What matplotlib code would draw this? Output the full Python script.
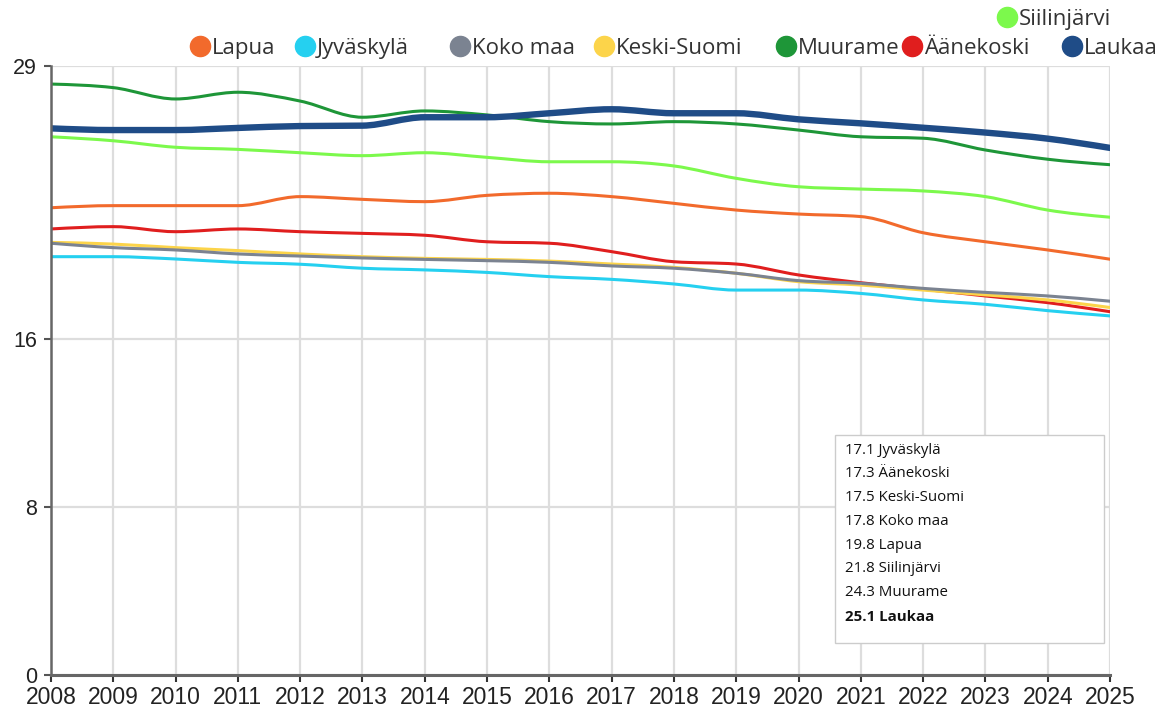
import numpy as np
import matplotlib
matplotlib.use("Agg")
import matplotlib.pyplot as plt
import matplotlib.patches as patches
from matplotlib.path import Path
from matplotlib.lines import Line2D

# ---- data ----
years = list(range(2008, 2026))

lapua       = [22.25, 22.35, 22.35, 22.35, 22.78, 22.65, 22.54, 22.84, 22.94,
               22.78, 22.46, 22.14, 21.95, 21.83, 21.06, 20.63, 20.24, 19.8]
jyvaskyla   = [19.92, 19.92, 19.81, 19.65, 19.56, 19.37, 19.29, 19.17, 18.97,
               18.84, 18.62, 18.33, 18.33, 18.17, 17.86, 17.65, 17.35, 17.1]
koko_maa    = [20.56, 20.35, 20.24, 20.05, 19.95, 19.86, 19.79, 19.73, 19.65,
               19.48, 19.37, 19.13, 18.78, 18.65, 18.41, 18.22, 18.05, 17.8]
keski_suomi = [20.60, 20.52, 20.35, 20.21, 20.05, 19.92, 19.84, 19.79, 19.71,
               19.57, 19.41, 19.13, 18.73, 18.57, 18.33, 18.10, 17.86, 17.5]
muurame     = [28.14, 27.97, 27.43, 27.75, 27.33, 26.56, 26.86, 26.67, 26.35,
               26.24, 26.35, 26.24, 25.95, 25.63, 25.56, 25.00, 24.56, 24.3]
aanekoski   = [21.24, 21.35, 21.11, 21.24, 21.11, 21.03, 20.94, 20.63, 20.56,
               20.16, 19.68, 19.57, 19.05, 18.68, 18.37, 18.05, 17.73, 17.3]
laukaa      = [26.03, 25.95, 25.95, 26.05, 26.14, 26.16, 26.56, 26.56, 26.75,
               26.94, 26.75, 26.75, 26.46, 26.27, 26.06, 25.83, 25.54, 25.1]
siilinjarvi = [25.63, 25.44, 25.13, 25.03, 24.87, 24.73, 24.87, 24.65, 24.44,
               24.44, 24.24, 23.65, 23.25, 23.14, 23.05, 22.78, 22.14, 21.8]

legend_names = ["Lapua", "Jyväskylä", "Koko maa", "Keski-Suomi",
                "Muurame", "Äänekoski", "Laukaa", "Siilinjärvi"]

yticks = [0, 8, 16, 29]

# ---- styling ----
SERIES = {
    "Lapua":       (lapua,       "#F26A2C", 2.2),
    "Jyväskylä":   (jyvaskyla,   "#25D0F0", 2.2),
    "Äänekoski":   (aanekoski,   "#E01E1E", 2.2),
    "Keski-Suomi": (keski_suomi, "#FCD44A", 2.2),
    "Koko maa":    (koko_maa,    "#7B8391", 2.2),
    "Muurame":     (muurame,     "#1E9638", 2.2),
    "Siilinjärvi": (siilinjarvi, "#7CF94C", 2.2),
    "Laukaa":      (laukaa,      "#1F4C87", 4.6),
}
LEG_FONT = ["Open Sans", "DejaVu Sans"]
TICK_FONT = ["Liberation Sans Narrow", "Liberation Sans", "DejaVu Sans"]


def monotone_path(xs, ys):
    """d3 curveMonotoneX-style bezier path through the points."""
    xs = np.asarray(xs, float)
    ys = np.asarray(ys, float)
    n = len(xs)
    h = np.diff(xs)
    s = np.diff(ys) / h
    t = np.zeros(n)
    for i in range(1, n - 1):
        s0, s1 = s[i - 1], s[i]
        p = (s0 * h[i] + s1 * h[i - 1]) / (h[i - 1] + h[i])
        t[i] = (np.sign(s0) + np.sign(s1)) * min(abs(s0), abs(s1), 0.5 * abs(p))
    t[0] = (3 * s[0] - t[1]) / 2
    t[-1] = (3 * s[-1] - t[-2]) / 2
    verts = [(xs[0], ys[0])]
    codes = [Path.MOVETO]
    for i in range(n - 1):
        dx = (xs[i + 1] - xs[i]) / 3
        verts += [(xs[i] + dx, ys[i] + dx * t[i]),
                  (xs[i + 1] - dx, ys[i + 1] - dx * t[i + 1]),
                  (xs[i + 1], ys[i + 1])]
        codes += [Path.CURVE4] * 3
    return Path(verts, codes)


W, H = 1162, 708
fig = plt.figure(figsize=(W / 100, H / 100), dpi=100)
fig.patch.set_facecolor("white")
ax = fig.add_axes([51 / W, 1 - 675 / H, (1110 - 51) / W, (675 - 66) / H])

ax.set_xlim(years[0], years[-1])
ax.set_ylim(0, 29)
ax.set_xticks(years)
ax.set_yticks(yticks)
ax.set_xticklabels([str(y) for y in years], fontfamily=TICK_FONT, fontsize=16.5, color="#222222")
ax.set_yticklabels([str(v) for v in yticks], fontfamily=TICK_FONT, fontsize=15.5, color="#222222")
ax.tick_params(axis="x", length=5, width=1.5, color="#333333", pad=3)
ax.tick_params(axis="y", length=5, width=1.5, color="#555555", pad=5)

ax.grid(True, color="#dddddd", linewidth=1.6, zorder=0)
ax.set_axisbelow(True)
for side in ("top", "right"):
    ax.spines[side].set_visible(False)
ax.spines["left"].set_color("#666666")
ax.spines["left"].set_linewidth(1.8)
ax.spines["bottom"].set_color("#666666")
ax.spines["bottom"].set_linewidth(2.2)
ax.spines["left"].set_zorder(5)
ax.spines["bottom"].set_zorder(5)

for i, (name, (vals, col, lw)) in enumerate(SERIES.items()):
    pp = patches.PathPatch(monotone_path(years, vals), facecolor="none",
                           edgecolor=col, linewidth=lw, zorder=3 + i * 0.1,
                           capstyle="round", joinstyle="round")
    ax.add_patch(pp)

# ---- legend across the top ----
leg_pos = {
    "Lapua":       (200, 46),
    "Jyväskylä":   (305, 46),
    "Koko maa":    (460, 46),
    "Keski-Suomi": (604, 46),
    "Muurame":     (786, 46),
    "Äänekoski":   (912, 46),
    "Laukaa":      (1072, 46),
    "Siilinjärvi": (1007, 17),
}
for name in legend_names:
    px, py = leg_pos[name]
    fx, fy = px / W, 1 - py / H
    fig.add_artist(Line2D([fx], [fy], marker="o", markersize=14.5, linestyle="none",
                          color=SERIES[name][1], transform=fig.transFigure))
    fig.text(fx + 12 / W, fy, name, fontsize=16, fontfamily=LEG_FONT,
             color="#333333", ha="left", va="center_baseline")

# ---- tooltip box with last values ----
box = patches.Rectangle((835 / W, 1 - 643 / H), (1104 - 835) / W, (643 - 435) / H,
                        transform=fig.transFigure, facecolor="white",
                        edgecolor="#cccccc", linewidth=1.0, zorder=10)
fig.add_artist(box)
last = sorted(((vals[-1], name) for name, (vals, c, lw) in SERIES.items()))
for k, (v, name) in enumerate(last):
    yy = 450 + k * 23.8
    bold = name == "Laukaa"
    fig.text(845 / W, 1 - yy / H, f"{v:.1f} {name}", fontsize=10.8,
             fontfamily=["Open Sans", "DejaVu Sans"],
             fontweight="bold" if bold else "normal",
             color="#111111", ha="left", va="center", zorder=11)

fig.savefig("out.png", dpi=100, facecolor="white")
